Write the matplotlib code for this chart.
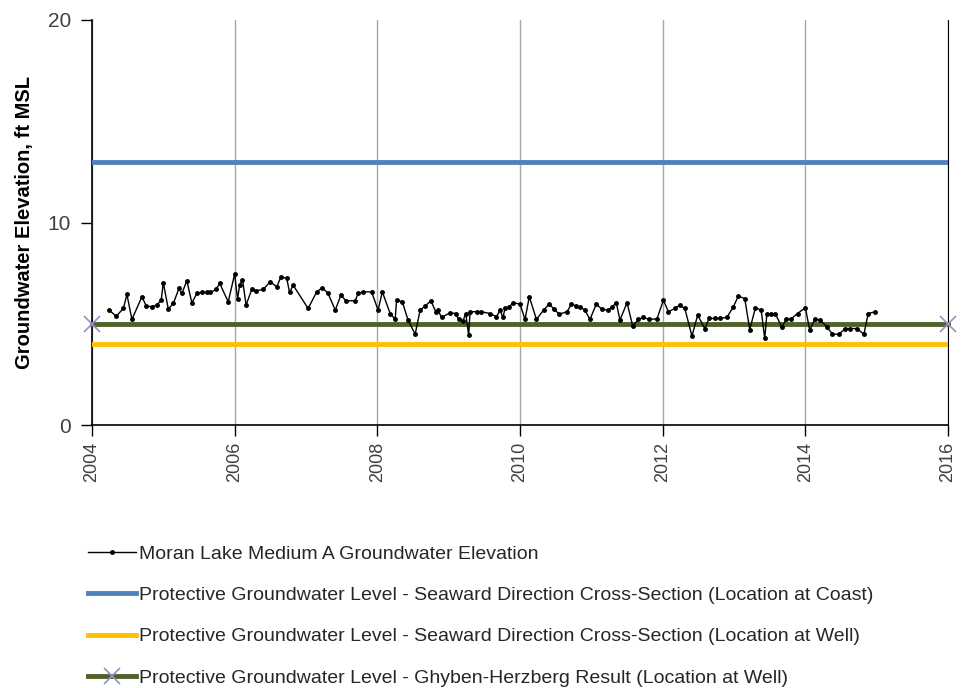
import matplotlib
matplotlib.use("Agg")
import matplotlib.pyplot as plt

# measured groundwater elevation (decimal year, ft MSL)
years = [2004.24, 2004.34, 2004.44, 2004.49, 2004.56, 2004.70, 2004.76, 2004.84, 2004.91, 2004.97,
         2005.00, 2005.07, 2005.14, 2005.22, 2005.26, 2005.33, 2005.40, 2005.47, 2005.54, 2005.61,
         2005.66, 2005.74, 2005.79, 2005.91, 2006.00, 2006.04, 2006.07, 2006.11, 2006.16, 2006.24,
         2006.30, 2006.40, 2006.50, 2006.59, 2006.65, 2006.73, 2006.77, 2006.82, 2007.03, 2007.15,
         2007.23, 2007.31, 2007.41, 2007.49, 2007.56, 2007.69, 2007.73, 2007.80, 2007.92, 2008.01,
         2008.07, 2008.18, 2008.25, 2008.27, 2008.35, 2008.43, 2008.53, 2008.60, 2008.67, 2008.75,
         2008.82, 2008.85, 2008.90, 2009.02, 2009.10, 2009.14, 2009.20, 2009.24, 2009.28, 2009.30,
         2009.39, 2009.46, 2009.58, 2009.67, 2009.72, 2009.76, 2009.79, 2009.85, 2009.90, 2010.00,
         2010.07, 2010.13, 2010.23, 2010.33, 2010.41, 2010.48, 2010.55, 2010.66, 2010.72, 2010.79,
         2010.84, 2010.91, 2010.98, 2011.07, 2011.15, 2011.24, 2011.29, 2011.35, 2011.40, 2011.50,
         2011.58, 2011.66, 2011.73, 2011.81, 2011.92, 2012.01, 2012.08, 2012.17, 2012.24, 2012.31,
         2012.41, 2012.49, 2012.59, 2012.65, 2012.73, 2012.81, 2012.90, 2012.99, 2013.06, 2013.15,
         2013.22, 2013.30, 2013.38, 2013.43, 2013.46, 2013.52, 2013.58, 2013.67, 2013.73, 2013.80,
         2013.89, 2014.00, 2014.06, 2014.13, 2014.21, 2014.30, 2014.38, 2014.47, 2014.56, 2014.63,
         2014.72, 2014.82, 2014.88, 2014.98]
elev = [5.68, 5.38, 5.76, 6.45, 5.22, 6.34, 5.89, 5.84, 5.93, 6.17,
        7.03, 5.73, 6.01, 6.75, 6.50, 7.13, 6.04, 6.50, 6.55, 6.55,
        6.55, 6.70, 7.00, 6.09, 7.46, 6.22, 6.91, 7.19, 5.93, 6.70,
        6.63, 6.70, 7.08, 6.83, 7.33, 7.24, 6.55, 6.91, 5.76, 6.58,
        6.79, 6.50, 5.68, 6.42, 6.14, 6.14, 6.50, 6.58, 6.58, 5.68,
        6.58, 5.51, 5.22, 6.17, 6.09, 5.19, 4.49, 5.68, 5.88, 6.14,
        5.60, 5.68, 5.32, 5.55, 5.51, 5.22, 5.15, 5.51, 4.44, 5.60,
        5.60, 5.60, 5.51, 5.35, 5.68, 5.32, 5.76, 5.84, 6.04, 5.98,
        5.22, 6.34, 5.22, 5.68, 5.98, 5.71, 5.48, 5.60, 5.98, 5.88,
        5.84, 5.68, 5.22, 5.98, 5.71, 5.68, 5.84, 6.04, 5.19, 6.04,
        4.89, 5.22, 5.32, 5.22, 5.25, 6.17, 5.60, 5.76, 5.93, 5.76,
        4.40, 5.43, 4.77, 5.27, 5.27, 5.27, 5.32, 5.84, 6.37, 6.25,
        4.72, 5.80, 5.68, 4.28, 5.48, 5.48, 5.48, 4.85, 5.22, 5.25,
        5.51, 5.80, 4.69, 5.22, 5.19, 4.85, 4.49, 4.49, 4.77, 4.77,
        4.77, 4.49, 5.51, 5.60]

# protective levels, drawn across the full period
level_years = [2004, 2016]
coast_level = [13, 13]
well_level = [4, 4]
gh_level = [5, 5]

labels = ["Moran Lake Medium A Groundwater Elevation",
          "Protective Groundwater Level - Seaward Direction Cross-Section (Location at Coast)",
          "Protective Groundwater Level - Seaward Direction Cross-Section (Location at Well)",
          "Protective Groundwater Level - Ghyben-Herzberg Result (Location at Well)"]

plt.rcParams['font.family'] = ['Liberation Sans', 'DejaVu Sans']

fig = plt.figure(figsize=(9.63, 6.88), dpi=100)
ax = fig.add_axes([0.0955, 0.382, 0.889, 0.589])

ax.plot(years, elev, color="black", lw=1, marker="o", ms=2.5, label=labels[0], zorder=5)
ax.plot(level_years, coast_level, color="#4F81BD", lw=3.5, label=labels[1], zorder=3)
ax.plot(level_years, well_level, color="#FFC000", lw=3.5, label=labels[2], zorder=3)
ax.plot(level_years, gh_level, color="#4F6228", lw=3.5, marker="x", ms=11, mew=1.2,
        mec="#9D8EC8", label=labels[3], zorder=4, clip_on=False)

ax.set_xlim(2004, 2016)
ax.set_ylim(0, 20)
ax.set_xticks(range(2004, 2017, 2))
ax.set_yticks([0, 10, 20])
ax.tick_params(axis="x", labelrotation=90, labelsize=13, length=8, width=1, pad=4)
ax.tick_params(axis="y", labelsize=15, length=8, width=1, pad=7)
for lab in ax.get_xticklabels() + ax.get_yticklabels():
    lab.set_color("#404040")
ax.grid(axis="x", color="#A6A6A6", lw=1)
ax.set_axisbelow(True)

ax.spines["top"].set_visible(False)
ax.spines["right"].set_color("black")
ax.spines["left"].set_linewidth(1.2)
ax.spines["bottom"].set_linewidth(1.2)

ax.set_ylabel("Groundwater Elevation, ft MSL", fontsize=14.5, fontweight="bold", labelpad=10)

fig.legend(loc="upper left", bbox_to_anchor=(0.083, 0.219), frameon=False, fontsize=14,
           handlelength=2.5, handletextpad=0.15, labelspacing=1.22, borderaxespad=0,
           labelcolor="#262626")

fig.savefig("out.png", dpi=100)
